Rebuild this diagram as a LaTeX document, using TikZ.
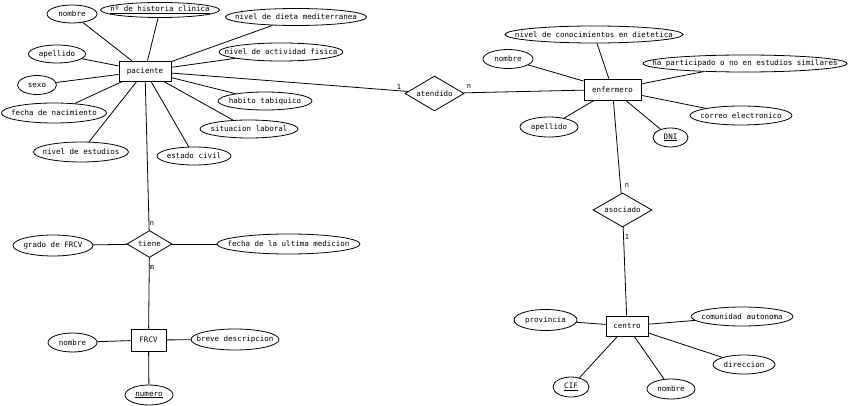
\documentclass[tikz,border=0pt]{standalone}
\usepackage{fontspec}
\setmonofont{DejaVu Sans Mono}
\usetikzlibrary{shapes.geometric}
\newcommand\tx[1]{\makebox[0pt][c]{#1}}
\begin{document}
\begin{tikzpicture}[x=1pt,y=-1pt,
  every node/.style={font=\ttfamily\fontsize{7.5}{8}\selectfont, inner sep=0pt},
  ent/.style={draw, rectangle, line width=0.8pt},
  att/.style={draw, ellipse, line width=0.8pt},
  rel/.style={draw, diamond, aspect=1.7, line width=0.8pt},
  lnk/.style={line width=0.8pt},
  card/.style={font=\ttfamily\fontsize{7}{8}\selectfont}]
\useasboundingbox[fill=white] (0,0) rectangle (848,406);
% entities
\node[ent, minimum width=52, minimum height=20] (pac) at (145,71) {\tx{paciente}};
\node[ent, minimum width=57, minimum height=21] (enf) at (612.5,89.5) {\tx{enfermero}};
\node[ent, minimum width=42, minimum height=20] (cen) at (627,326) {\tx{centro}};
\node[ent, minimum width=35, minimum height=22] (frcv) at (148.5,340) {\tx{FRCV}};
% relations
\node[rel, minimum width=59, minimum height=35] (ate) at (434.5,93.5) {\tx{atendido}};
\node[rel, minimum width=59, minimum height=34] (aso) at (622.5,210) {\tx{asociado}};
\node[rel, minimum width=45, minimum height=27] (tie) at (149.5,244) {\tx{tiene}};
% paciente attributes
\node[att, minimum width=50, minimum height=18] (pnom) at (72,14) {\tx{nombre}};
\node[att, minimum width=119, minimum height=15] (phis) at (160,10) {\tx{\underline{nº de historia clinica}}};
\node[att, minimum width=141, minimum height=17] (pdie) at (296,17) {\tx{nivel de dieta mediterranea}};
\node[att, minimum width=124, minimum height=18] (pact) at (281,52) {\tx{nivel de actividad fisica}};
\node[att, minimum width=57, minimum height=18] (pape) at (57,54) {\tx{apellido}};
\node[att, minimum width=39, minimum height=19] (psex) at (37,85) {\tx{sexo}};
\node[att, minimum width=105, minimum height=20] (pfec) at (54,113) {\tx{fecha de nacimiento}};
\node[att, minimum width=94, minimum height=18] (phab) at (265,101) {\tx{habito tabiquico}};
\node[att, minimum width=98, minimum height=18] (psit) at (249,129) {\tx{situacion laboral}};
\node[att, minimum width=95, minimum height=20] (pest) at (81,152) {\tx{nivel de estudios}};
\node[att, minimum width=74, minimum height=18] (pciv) at (194,156) {\tx{estado civil}};
% enfermero attributes
\node[att, minimum width=178, minimum height=17] (econ) at (594,34.5) {\tx{nivel de conocimientos en dietetica}};
\node[att, minimum width=50, minimum height=19] (enom) at (508,59) {\tx{nombre}};
\node[att, minimum width=204, minimum height=17] (epar) at (745,63.5) {\tx{ha participado o no en estudios similares}};
\node[att, minimum width=102, minimum height=19] (ecor) at (741,115.5) {\tx{correo electronico}};
\node[att, minimum width=58, minimum height=20] (eape) at (549,127) {\tx{apellido}};
\node[att, minimum width=35, minimum height=19] (edni) at (670.5,137.5) {\tx{\underline{DNI}}};
% centro attributes
\node[att, minimum width=63, minimum height=21] (cpro) at (545.5,320) {\tx{provincia}};
\node[att, minimum width=102, minimum height=19] (ccom) at (742,316.5) {\tx{comunidad autonoma}};
\node[att, minimum width=62, minimum height=19] (cdir) at (744,364.5) {\tx{direccion}};
\node[att, minimum width=36, minimum height=20] (ccif) at (571,387) {\tx{\underline{CIF}}};
\node[att, minimum width=48, minimum height=20] (cnom) at (671,389) {\tx{nombre}};
% tiene / FRCV attributes
\node[att, minimum width=80, minimum height=21] (tgra) at (53,245.5) {\tx{grado de FRCV}};
\node[att, minimum width=143, minimum height=20] (tfec) at (288.5,244) {\tx{fecha de la ultima medicion}};
\node[att, minimum width=49, minimum height=19] (fnom) at (72.5,342.5) {\tx{nombre}};
\node[att, minimum width=88, minimum height=21] (fdes) at (235,339.5) {\tx{breve descripcion}};
\node[att, minimum width=48, minimum height=20] (fnum) at (149,395) {\tx{\underline{numero}}};
% links
\foreach \a in {pnom,phis,pdie,pact,pape,psex,pfec,phab,psit,pest,pciv}
  \draw[lnk] (pac) -- (\a);
\foreach \a in {econ,enom,epar,ecor,eape,edni}
  \draw[lnk] (enf) -- (\a);
\foreach \a in {cpro,ccom,cdir,ccif,cnom}
  \draw[lnk] (cen) -- (\a);
\foreach \a in {fnom,fdes,fnum}
  \draw[lnk] (frcv) -- (\a);
\draw[lnk] (tie) -- (tgra);
\draw[lnk] (tie) -- (tfec);
\draw[lnk] (pac) -- (ate);
\draw[lnk] (ate) -- (enf);
\draw[lnk] (enf) -- (aso);
\draw[lnk] (aso) -- (cen);
\draw[lnk] (pac) -- (tie);
\draw[lnk] (tie) -- (frcv);
% cardinalities
\node[card] (c1) at (399,87) {1};
\node[card] (c2) at (469,87) {n};
\node[card] (c3) at (627,186) {n};
\node[card] (c4) at (627,237) {1};
\node[card] (c5) at (152,224) {n};
\node[card] (c6) at (152,268) {m};
\end{tikzpicture}
\end{document}
